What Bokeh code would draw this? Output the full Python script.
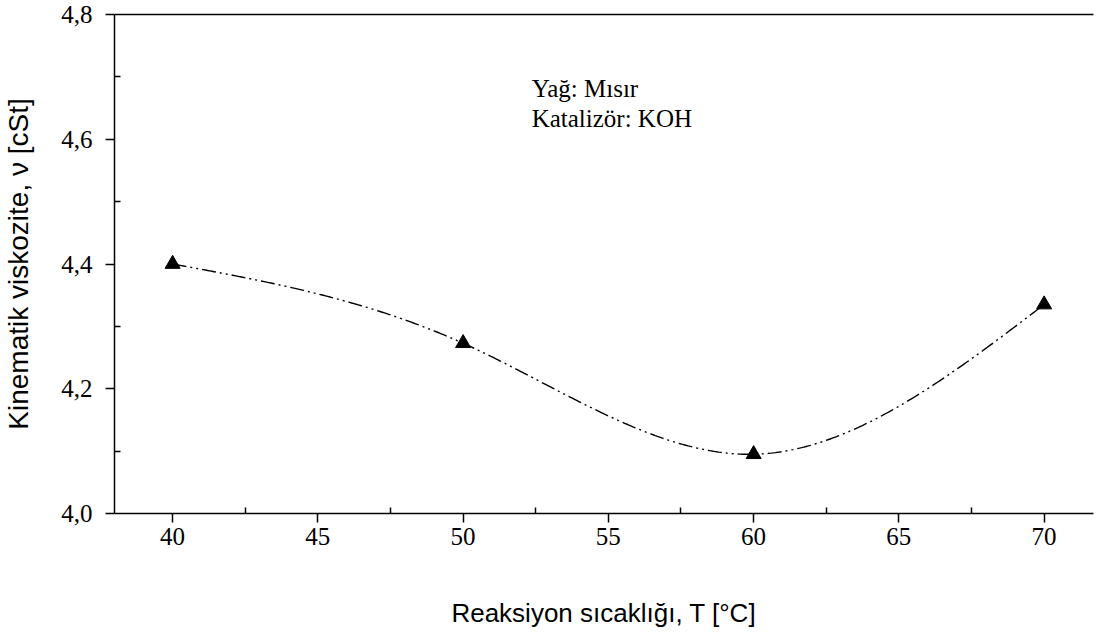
import numpy as np
from bokeh.plotting import figure
from bokeh.models import Range1d, LinearAxis, FixedTicker, Label, CustomJSTickFormatter
from bokeh.embed import file_html
from bokeh.resources import INLINE

# ---- data ----
temperature = [40, 50, 60, 70]
viscosity = [4.40, 4.273, 4.095, 4.335]
x_ticks = [40, 45, 50, 55, 60, 65, 70]
x_minor = [42.5, 47.5, 52.5, 57.5, 62.5, 67.5]
y_ticks = [4.0, 4.2, 4.4, 4.6, 4.8]
y_minor = [4.1, 4.3, 4.5, 4.7]
note_lines = ["Yağ: Mısır", "Katalizör: KOH"]


def natural_spline(xs, ys, n=400):
    xs = np.asarray(xs, float)
    ys = np.asarray(ys, float)
    N = len(xs)
    h = np.diff(xs)
    A = np.zeros((N, N))
    r = np.zeros(N)
    A[0, 0] = 1
    A[-1, -1] = 1
    for i in range(1, N - 1):
        A[i, i - 1] = h[i - 1]
        A[i, i] = 2 * (h[i - 1] + h[i])
        A[i, i + 1] = h[i]
        r[i] = 3 * ((ys[i + 1] - ys[i]) / h[i] - (ys[i] - ys[i - 1]) / h[i - 1])
    c = np.linalg.solve(A, r)
    b = (ys[1:] - ys[:-1]) / h - h * (2 * c[:-1] + c[1:]) / 3
    d = (c[1:] - c[:-1]) / (3 * h)
    xx = np.linspace(xs[0], xs[-1], n)
    idx = np.clip(np.searchsorted(xs, xx, side="right") - 1, 0, N - 2)
    t = xx - xs[idx]
    yy = ys[idx] + b[idx] * t + c[idx] * t ** 2 + d[idx] * t ** 3
    return xx, yy


p = figure(width=1108, height=635, output_backend="svg", toolbar_location=None,
           x_range=Range1d(38, 71.7), y_range=Range1d(4.0, 4.8),
           min_border_left=112, min_border_right=15, min_border_top=14,
           min_border_bottom=122, x_axis_location=None, y_axis_location=None)
p.outline_line_color = None
p.grid.visible = False
p.background_fill_color = "white"
p.border_fill_color = "white"

serif = "Liberation Serif"
sans = "Liberation Sans"

xaxis = LinearAxis(ticker=FixedTicker(ticks=x_ticks, minor_ticks=x_minor),
                   formatter=CustomJSTickFormatter(code="return tick.toFixed(0);"))
yaxis = LinearAxis(ticker=FixedTicker(ticks=y_ticks, minor_ticks=y_minor),
                   formatter=CustomJSTickFormatter(code="return tick.toFixed(1).replace('.', ',');"))
for ax in (xaxis, yaxis):
    ax.axis_line_color = "black"
    ax.axis_line_width = 1.5
    ax.major_tick_line_color = "black"
    ax.major_tick_line_width = 1.5
    ax.minor_tick_line_color = "black"
    ax.minor_tick_line_width = 1.5
    ax.major_tick_out = 9
    ax.major_tick_in = 0
    ax.minor_tick_out = 0
    ax.minor_tick_in = 6
    ax.major_label_text_font = serif
    ax.major_label_text_font_size = "25px"
    ax.major_label_text_color = "black"
    ax.axis_label_text_font = sans
    ax.axis_label_text_font_style = "normal"
    ax.axis_label_text_color = "black"

xaxis.axis_label = "Reaksiyon sıcaklığı, T [°C]"
xaxis.axis_label_text_font_size = "26px"
xaxis.major_label_standoff = 5
xaxis.axis_label_standoff = 50

yaxis.axis_label = "Kinematik viskozite, ν [cSt]"
yaxis.axis_label_text_font_size = "28px"
yaxis.major_label_standoff = 13
yaxis.axis_label_standoff = 24

p.add_layout(xaxis, "below")
p.add_layout(yaxis, "left")

top = LinearAxis(ticker=FixedTicker(ticks=[]), major_tick_out=0, major_tick_in=0,
                 minor_tick_out=0, minor_tick_in=0, major_label_standoff=0,
                 axis_line_color="black", axis_line_width=1.5)
p.add_layout(top, "above")

sx, sy = natural_spline(temperature, viscosity)
p.line(sx, sy, line_color="black", line_width=1.4, line_dash="14 4 2 4 2 4")
p.scatter(temperature, viscosity, marker="triangle", size=15,
          fill_color="black", line_color="black")

for i, txt in enumerate(note_lines):
    p.add_layout(Label(x=52.36, y=4.681 - i * 0.048, text=txt, text_font=serif,
                       text_font_size="25px", text_color="black",
                       text_baseline="middle", text_align="left"))

open("out.html", "w").write(file_html(p, INLINE))
